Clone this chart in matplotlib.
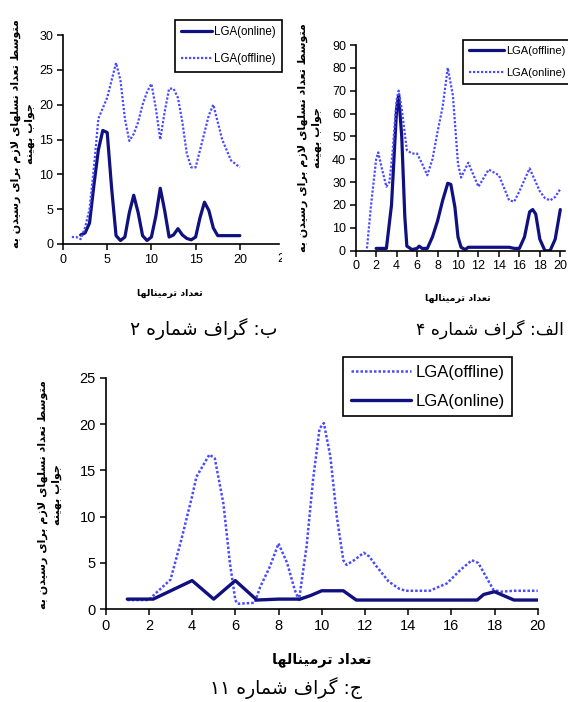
import matplotlib
matplotlib.use("Agg")
import matplotlib.pyplot as plt
from matplotlib.transforms import Bbox, TransformedBbox

# ---------------- data ----------------
# Graph 2 (top-left)
g2_online_x = [2, 2.5, 3, 3.5, 4, 4.5, 5, 5.5, 6, 6.5, 7, 7.5, 8, 8.5, 9, 9.5, 10, 10.5, 11, 11.5,
               12, 12.5, 13, 13.5, 14, 14.5, 15, 15.5, 16, 16.5, 17, 17.5, 18, 19, 20]
g2_online_y = [1.3, 1.6, 3.0, 8.5, 13.5, 16.3, 16.0, 8.0, 1.2, 0.5, 1.0, 4.5, 7.0, 4.5, 1.2, 0.5, 1.0, 4.0, 8.0, 4.8,
               1.0, 1.3, 2.2, 1.3, 0.8, 0.6, 1.0, 3.8, 6.0, 4.8, 2.3, 1.2, 1.2, 1.2, 1.2]
g2_offline_x = [1, 1.5, 2, 2.5, 3, 3.5, 4, 4.5, 5, 5.5, 6, 6.5, 7, 7.5, 8, 8.5, 9, 9.5, 10, 10.5,
                11, 11.5, 12, 12.5, 13, 13.5, 14, 14.5, 15, 15.5, 16, 16.5, 17, 17.5, 18, 18.5, 19, 19.5, 20]
g2_offline_y = [1.0, 1.0, 0.7, 2.4, 5.0, 11.0, 18.0, 19.5, 21.0, 23.5, 26.0, 23.5, 18.0, 14.8, 15.8, 17.5, 20.0, 21.8, 23.0, 19.5,
                15.0, 19.0, 22.3, 22.3, 21.0, 17.5, 13.0, 11.0, 11.0, 13.5, 16.0, 18.5, 20.0, 17.5, 15.0, 13.5, 12.0, 11.5, 11.0]

# Graph 4 (top-right)
g4_offline_x = [2, 3, 3.5, 4, 4.2, 4.5, 4.8, 5, 5.5, 6, 6.2, 6.5, 7, 7.5, 8, 8.5, 9, 9.3, 9.7, 10,
                10.3, 10.7, 11, 12, 13, 14, 15, 15.5, 16, 16.5, 17, 17.3, 17.6, 18, 18.5, 19, 19.5, 20]
g4_offline_y = [1, 1, 20, 62, 68, 50, 15, 2, 0.5, 1, 2, 1, 1, 6, 13, 22, 29.5, 29, 19, 6,
                1.5, 0.5, 1.5, 1.5, 1.5, 1.5, 1.5, 1, 1, 6, 17, 18, 16, 5, 0, 0, 5, 18]
g4_online_x = [1.1, 1.5, 2, 2.2, 2.5, 3, 3.3, 3.6, 4, 4.2, 4.5, 5, 5.5, 6, 6.5, 7, 7.5, 8, 8.5, 9,
               9.5, 10, 10.3, 11, 12, 13, 14, 15, 15.5, 16, 17, 17.5, 18, 18.5, 19, 19.5, 20]
g4_online_y = [1, 20, 40, 43, 37, 28, 30, 43, 66, 70, 62, 44, 42.5, 42.5, 38, 33, 40, 52, 63, 80,
               68, 38, 32, 38.5, 28, 35.5, 33, 22, 21.5, 26, 36, 31, 26, 23, 22, 23.5, 27]

# Graph 11 (bottom)
g11_offline_x = [1, 2, 2.3, 3, 3.5, 4, 4.2, 4.8, 5.05, 5.45, 5.75, 6, 6.1, 6.9, 7.15, 7.6, 8, 8.4, 8.75, 8.95,
                 9.3, 9.6, 9.9, 10.1, 10.4, 10.7, 11, 11.15, 11.5, 11.95, 12.2, 12.55, 13.1, 13.6, 13.9, 15,
                 15.8, 16.4, 16.95, 17.25, 17.95, 18.3, 18.9, 20]
g11_offline_y = [1.0, 1.0, 1.7, 3.2, 7.5, 12.2, 14.3, 16.7, 16.3, 11.4, 5.0, 1.0, 0.6, 0.7, 2.4, 4.6, 7.1, 5.0, 2.1, 1.0,
                 6.8, 14.0, 19.5, 20.1, 16.5, 10.0, 5.3, 4.8, 5.3, 6.1, 5.7, 4.6, 3.0, 2.2, 2.0, 2.0,
                 2.8, 4.2, 5.3, 5.0, 2.1, 1.9, 2.0, 2.0]
g11_online_x = [1, 2.2, 4, 5, 6, 7, 8, 9, 9.5, 10, 11, 11.6, 17.2, 17.5, 18, 18.9, 20]
g11_online_y = [1.1, 1.1, 3.1, 1.1, 3.1, 1.0, 1.1, 1.1, 1.5, 2.0, 2.0, 1.0, 1.0, 1.6, 1.9, 1.0, 1.0]

# texts
YLAB1 = "متوسط تعداد نسلهای لازم برای رسیدن به"
YLAB2 = "جواب بهینه"
XLAB = "تعداد ترمینالها"
CAP_TL = "ب: گراف شماره ۲"
CAP_TR = "الف: گراف شماره ۴"
CAP_B = "ج: گراف شماره ۱۱"
LEG_ON = "LGA(online)"
LEG_OFF = "LGA(offline)"

# ---------------- simple Persian shaping (visual order) ----------------
FORMS = {
    'ا': ('\uFE8D', '\uFE8E', None, None),
    'ب': ('\uFE8F', '\uFE90', '\uFE91', '\uFE92'),
    'ت': ('\uFE95', '\uFE96', '\uFE97', '\uFE98'),
    'ج': ('\uFE9D', '\uFE9E', '\uFE9F', '\uFEA0'),
    'د': ('\uFEA9', '\uFEAA', None, None),
    'ر': ('\uFEAD', '\uFEAE', None, None),
    'ز': ('\uFEAF', '\uFEB0', None, None),
    'س': ('\uFEB1', '\uFEB2', '\uFEB3', '\uFEB4'),
    'ش': ('\uFEB5', '\uFEB6', '\uFEB7', '\uFEB8'),
    'ط': ('\uFEC1', '\uFEC2', '\uFEC3', '\uFEC4'),
    'ع': ('\uFEC9', '\uFECA', '\uFECB', '\uFECC'),
    'ف': ('\uFED1', '\uFED2', '\uFED3', '\uFED4'),
    'ل': ('\uFEDD', '\uFEDE', '\uFEDF', '\uFEE0'),
    'م': ('\uFEE1', '\uFEE2', '\uFEE3', '\uFEE4'),
    'ن': ('\uFEE5', '\uFEE6', '\uFEE7', '\uFEE8'),
    'ه': ('\uFEE9', '\uFEEA', '\uFEEB', '\uFEEC'),
    'و': ('\uFEED', '\uFEEE', None, None),
    '\u06cc': ('\uFBFC', '\uFBFD', '\uFBFE', '\uFBFF'),
    'گ': ('\uFB92', '\uFB93', '\uFB94', '\uFB95'),
}


def shape(s):
    s = s.replace('\u064a', '\u06cc')
    chars = list(s)
    toks = []
    i = 0
    while i < len(chars):
        if chars[i] == 'ل' and i + 1 < len(chars) and chars[i + 1] == 'ا':
            toks.append('LA')
            i += 2
        else:
            toks.append(chars[i])
            i += 1

    def joins_next(t):
        return t in FORMS and FORMS[t][2] is not None

    def is_letter(t):
        return t in FORMS or t == 'LA'

    out = []
    for k, t in enumerate(toks):
        prev = toks[k - 1] if k > 0 else None
        nxt = toks[k + 1] if k + 1 < len(toks) else None
        pc = prev is not None and joins_next(prev) and is_letter(t)
        if t == 'LA':
            out.append('\uFEFC' if pc else '\uFEFB')
            continue
        if t not in FORMS:
            out.append(t)
            continue
        f = FORMS[t]
        nc = f[2] is not None and nxt is not None and is_letter(nxt)
        if pc and nc:
            out.append(f[3])
        elif pc:
            out.append(f[1])
        elif nc:
            out.append(f[2])
        else:
            out.append(f[0])
    return ''.join(reversed(out))


# ---------------- figure ----------------
W, H = 568, 702
fig = plt.figure(figsize=(W / 100, H / 100), dpi=100)
fig.patch.set_facecolor('white')

DARK = '#10107e'
LIGHT = '#4a4aff'
NUMFONT = ['Liberation Sans', 'DejaVu Sans']
AR = ['DejaVu Sans']


def fx(px):
    return px / W


def fy(py):
    return 1 - py / H


def style_axes(ax, fs):
    for s in ('top', 'right'):
        ax.spines[s].set_visible(False)
    for s in ('left', 'bottom'):
        ax.spines[s].set_linewidth(1.2)
        ax.spines[s].set_color('black')
    ax.tick_params(direction='out', length=4, width=1.1, colors='black', pad=3)
    for lab in ax.get_xticklabels() + ax.get_yticklabels():
        lab.set_fontfamily(NUMFONT)
        lab.set_fontsize(fs)


def dark_line(ax, x, y, lw=2.3):
    return ax.plot(x, y, color=DARK, lw=lw, solid_joinstyle='round', solid_capstyle='round')[0]


def light_line(ax, x, y, lw=1.6):
    return ax.plot(x, y, color=LIGHT, lw=lw, linestyle=(0, (1, 0.8)))[0]


def add_legend(handles, labels, x0, y0, fs, **kw):
    leg = fig.legend(handles, labels, loc='upper left',
                     bbox_to_anchor=(fx(x0), fy(y0)), bbox_transform=fig.transFigure,
                     frameon=True, fancybox=False, edgecolor='black', framealpha=1,
                     prop={'family': NUMFONT, 'size': fs}, borderaxespad=0, **kw)
    leg.get_frame().set_linewidth(1.2)
    return leg


def ylabel(xc, yc, fs, ls):
    fig.text(fx(xc), fy(yc), shape(YLAB1) + '\n' + shape(YLAB2), rotation=90, ha='center',
             va='center', multialignment='center', family=AR, fontsize=fs, fontweight='bold',
             linespacing=ls)


# ---- top-left: graph 2 ----
ax1 = fig.add_axes([fx(63), fy(244), fx(279 - 63), (244 - 35) / H])
l_on = dark_line(ax1, g2_online_x, g2_online_y)
l_off = light_line(ax1, g2_offline_x, g2_offline_y)
ax1.set_xlim(0, 24.43)
ax1.set_ylim(0, 30)
ax1.set_xticks([0, 5, 10, 15, 20])
ax1.set_yticks([0, 5, 10, 15, 20, 25, 30])
style_axes(ax1, 9)
t25 = ax1.text(25, -0.045, '25', transform=ax1.get_xaxis_transform(), ha='center', va='top',
               fontsize=9, family=NUMFONT, clip_on=True)
t25.set_clip_box(TransformedBbox(Bbox([[0, 0], [281.5 / W, 1]]), fig.transFigure))
add_legend([l_on, l_off], [LEG_ON, LEG_OFF], 175, 20, 8.3, labelspacing=1.3, borderpad=0.55,
           handlelength=2.7, handletextpad=0.1)
ylabel(23, 134, 8.0, 1.4)
fig.text(fx(170), fy(293), shape(XLAB), ha='center', va='center', family=AR, fontsize=6.8,
         fontweight='bold')
fig.text(fx(204), fy(329), shape(CAP_TL), ha='center', va='center', family=AR, fontsize=13.5)

# ---- top-right: graph 4 ----
ax2 = fig.add_axes([fx(355.7), fy(250.7), fx(565 - 355.7), (250.7 - 45) / H])
l_off4 = dark_line(ax2, g4_offline_x, g4_offline_y)
l_on4 = light_line(ax2, g4_online_x, g4_online_y)
ax2.set_xlim(0, 20.46)
ax2.set_ylim(0, 90)
ax2.set_xticks(list(range(0, 21, 2)))
ax2.set_yticks(list(range(0, 91, 10)))
style_axes(ax2, 9)
add_legend([l_off4, l_on4], [LEG_OFF, LEG_ON], 463, 40, 8.0, labelspacing=1.15, borderpad=0.5,
           handlelength=3.2, handletextpad=0.15)
ylabel(310, 138, 8.0, 1.4)
fig.text(fx(458), fy(298), shape(XLAB), ha='center', va='center', family=AR, fontsize=6.8,
         fontweight='bold')
fig.text(fx(490), fy(329), shape(CAP_TR), ha='center', va='center', family=AR, fontsize=12.5)

# ---- bottom: graph 11 ----
ax3 = fig.add_axes([fx(105.7), fy(609.3), fx(537.7 - 105.7), (609.3 - 377.7) / H])
l_off11 = light_line(ax3, g11_offline_x, g11_offline_y, lw=1.8)
l_on11 = dark_line(ax3, g11_online_x, g11_online_y, lw=2.4)
ax3.set_xlim(0, 20)
ax3.set_ylim(0, 25)
ax3.set_xticks(list(range(0, 21, 2)))
ax3.set_yticks([0, 5, 10, 15, 20, 25])
style_axes(ax3, 10.5)
add_legend([l_off11, l_on11], [LEG_OFF, LEG_ON], 343, 357, 12, labelspacing=0.86, borderpad=0.45,
           handlelength=3.6, handletextpad=0.3)
ylabel(50, 495, 8.0, 1.4)
fig.text(fx(322), fy(660), shape(XLAB), ha='center', va='center', family=AR, fontsize=10.3,
         fontweight='bold')
fig.text(fx(286), fy(688), shape(CAP_B), ha='center', va='center', family=AR, fontsize=13.5)

fig.savefig('out.png', dpi=100, facecolor='white')
